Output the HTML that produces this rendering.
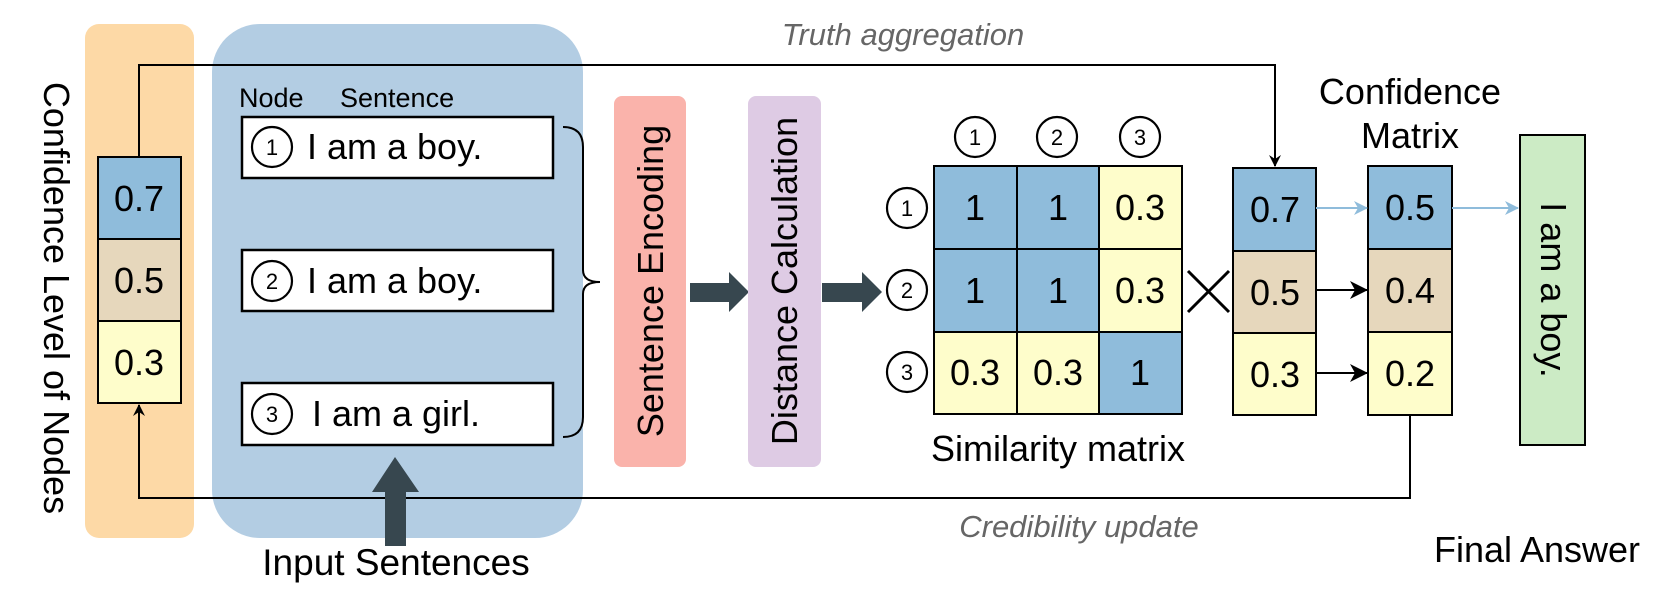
<!DOCTYPE html>
<html><head><meta charset="utf-8"><style>
html,body{margin:0;padding:0;background:#fff;}
svg{display:block;font-family:"Liberation Sans",Arial,sans-serif;}
</style></head><body>
<svg width="1660" height="604" viewBox="0 0 1660 604" xmlns="http://www.w3.org/2000/svg">
<defs>
<marker id="ab" markerWidth="12" markerHeight="12" refX="11" refY="6" orient="auto" markerUnits="userSpaceOnUse"><path d="M0,0 L12,6 L0,12 L4,6 Z" fill="#000"/></marker>
<marker id="al" markerWidth="14" markerHeight="14" refX="13" refY="7" orient="auto" markerUnits="userSpaceOnUse"><path d="M0,0 L14,7 L0,14 L4,7 Z" fill="#8fbcdb"/></marker>
<marker id="ak" markerWidth="18" markerHeight="18" refX="17" refY="9" orient="auto" markerUnits="userSpaceOnUse"><path d="M0,0 L18,9 L0,18 L5,9 Z" fill="#000"/></marker>
</defs>
<rect x="85" y="24" width="109" height="514" rx="14" fill="#fdd9a6"/>
<rect x="212" y="24" width="371" height="514" rx="48" fill="#b3cde3"/>
<text transform="translate(44,298) rotate(90)" text-anchor="middle" font-size="36" fill="#000">Confidence Level of Nodes</text>
<rect x="98" y="157" width="83" height="82" fill="#8fbcdb" stroke="#000" stroke-width="2"/>
<rect x="98" y="239" width="83" height="82" fill="#e6d7bc" stroke="#000" stroke-width="2"/>
<rect x="98" y="321" width="83" height="82" fill="#fefdcb" stroke="#000" stroke-width="2"/>
<g font-size="36" text-anchor="middle"><text x="139" y="211">0.7</text><text x="139" y="293">0.5</text><text x="139" y="375">0.3</text></g>
<polyline points="139,157 139,65 1275,65 1275,166" fill="none" stroke="#000" stroke-width="2" marker-end="url(#ab)"/>
<polyline points="1410,415 1410,498 139,498 139,405" fill="none" stroke="#000" stroke-width="2" marker-end="url(#ab)"/>
<text x="903" y="45" text-anchor="middle" font-size="31" font-style="italic" fill="#666">Truth aggregation</text>
<text x="1079" y="537" text-anchor="middle" font-size="31" font-style="italic" fill="#666">Credibility update</text>
<text x="239" y="107" font-size="27">Node</text>
<text x="340" y="107" font-size="27">Sentence</text>
<g stroke="#000" stroke-width="2.5">
<rect x="242" y="117" width="311" height="61" fill="#fff"/>
<rect x="242" y="250" width="311" height="61" fill="#fff"/>
<rect x="242" y="383" width="311" height="62" fill="#fff"/>
<circle cx="272" cy="147" r="20" fill="#fff" stroke-width="2.2"/>
<circle cx="272" cy="281" r="20" fill="#fff" stroke-width="2.2"/>
<circle cx="272" cy="414" r="20" fill="#fff" stroke-width="2.2"/>
</g>
<g font-size="22" text-anchor="middle"><text x="272" y="155">1</text><text x="272" y="289">2</text><text x="272" y="422">3</text></g>
<g font-size="36"><text x="307" y="159">I am a boy.</text><text x="307" y="293">I am a boy.</text><text x="312" y="426">I am a girl.</text></g>
<path d="M563,127 Q583,127 583,147 L583,270 Q583,282 600,282 Q583,282 583,294 L583,417 Q583,437 563,437" fill="none" stroke="#000" stroke-width="2"/>
<polygon points="385,546 406,546 406,492 419,492 395,457 372,492 385,492" fill="#37474f"/>
<text x="396" y="575" text-anchor="middle" font-size="37">Input Sentences</text>
<rect x="614" y="96" width="72" height="371" rx="8" fill="#fab3ab"/>
<text transform="translate(663,281) rotate(-90)" text-anchor="middle" font-size="36">Sentence Encoding</text>
<polygon points="690,283 729,283 729,272 749,292 729,312 729,302 690,302" fill="#37474f"/>
<rect x="748" y="96" width="73" height="371" rx="8" fill="#decbe4"/>
<text transform="translate(797,281) rotate(-90)" text-anchor="middle" font-size="36">Distance Calculation</text>
<polygon points="822,283 862,283 862,272 882,292 862,312 862,302 822,302" fill="#37474f"/>
<g stroke="#000" stroke-width="2.2">
<circle cx="975" cy="137" r="20" fill="#fff"/><circle cx="1057" cy="137" r="20" fill="#fff"/><circle cx="1140" cy="137" r="20" fill="#fff"/>
<circle cx="907" cy="208" r="20" fill="#fff"/><circle cx="907" cy="290" r="20" fill="#fff"/><circle cx="907" cy="372" r="20" fill="#fff"/>
</g>
<g stroke="#000" stroke-width="2">
<rect x="934" y="166" width="83" height="83" fill="#8fbcdb"/>
<rect x="1017" y="166" width="82" height="83" fill="#8fbcdb"/>
<rect x="1099" y="166" width="83" height="83" fill="#fefdcb"/>
<rect x="934" y="249" width="83" height="83" fill="#8fbcdb"/>
<rect x="1017" y="249" width="82" height="83" fill="#8fbcdb"/>
<rect x="1099" y="249" width="83" height="83" fill="#fefdcb"/>
<rect x="934" y="332" width="83" height="82" fill="#fefdcb"/>
<rect x="1017" y="332" width="82" height="82" fill="#fefdcb"/>
<rect x="1099" y="332" width="83" height="82" fill="#8fbcdb"/>
</g>
<g font-size="22" text-anchor="middle">
<text x="975" y="145">1</text><text x="1057" y="145">2</text><text x="1140" y="145">3</text>
<text x="907" y="216">1</text><text x="907" y="298">2</text><text x="907" y="380">3</text>
</g>
<g font-size="36" text-anchor="middle">
<text x="975" y="220">1</text><text x="1058" y="220">1</text><text x="1140" y="220">0.3</text>
<text x="975" y="303">1</text><text x="1058" y="303">1</text><text x="1140" y="303">0.3</text>
<text x="975" y="385">0.3</text><text x="1058" y="385">0.3</text><text x="1140" y="385">1</text>
</g>
<text x="1058" y="461" text-anchor="middle" font-size="36">Similarity matrix</text>
<path d="M1188,271 L1229,312 M1229,271 L1188,312" stroke="#000" stroke-width="3"/>
<g stroke="#000" stroke-width="2">
<rect x="1233" y="168" width="83" height="83" fill="#8fbcdb"/>
<rect x="1233" y="251" width="83" height="82" fill="#e6d7bc"/>
<rect x="1233" y="333" width="83" height="82" fill="#fefdcb"/>
<rect x="1368" y="166" width="84" height="83" fill="#8fbcdb"/>
<rect x="1368" y="249" width="84" height="83" fill="#e6d7bc"/>
<rect x="1368" y="332" width="84" height="83" fill="#fefdcb"/>
</g>
<g font-size="36" text-anchor="middle">
<text x="1275" y="222">0.7</text><text x="1275" y="305">0.5</text><text x="1275" y="387">0.3</text>
<text x="1410" y="220">0.5</text><text x="1410" y="303">0.4</text><text x="1410" y="386">0.2</text>
</g>
<line x1="1316" y1="208" x2="1367" y2="208" stroke="#8fbcdb" stroke-width="2" marker-end="url(#al)"/>
<line x1="1452" y1="208" x2="1518" y2="208" stroke="#8fbcdb" stroke-width="2" marker-end="url(#al)"/>
<line x1="1316" y1="290" x2="1367" y2="290" stroke="#000" stroke-width="2" marker-end="url(#ak)"/>
<line x1="1316" y1="373" x2="1367" y2="373" stroke="#000" stroke-width="2" marker-end="url(#ak)"/>
<text x="1410" y="104" text-anchor="middle" font-size="36">Confidence</text>
<text x="1410" y="148" text-anchor="middle" font-size="36">Matrix</text>
<rect x="1520" y="135" width="65" height="310" fill="#ccebc5" stroke="#000" stroke-width="2"/>
<text transform="translate(1541,290) rotate(90)" text-anchor="middle" font-size="36">I am a boy.</text>
<text x="1537" y="562" text-anchor="middle" font-size="36">Final Answer</text>
</svg>
</body></html>
